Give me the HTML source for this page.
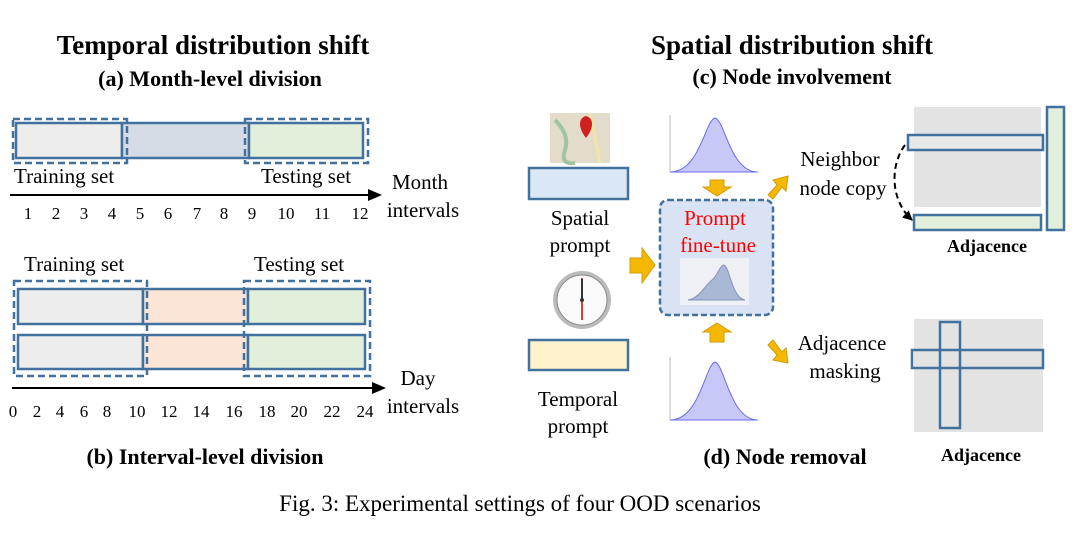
<!DOCTYPE html>
<html><head><style>
body{margin:0;background:#fff}
svg{display:block;font-family:"Liberation Serif",serif}
</style></head><body>
<svg width="1080" height="545" viewBox="0 0 1080 545" xmlns="http://www.w3.org/2000/svg">
<defs>
<marker id="ah" markerWidth="10" markerHeight="10" refX="9" refY="5" orient="auto" markerUnits="userSpaceOnUse"><path d="M0,0 L10,5 L0,10 z" fill="#000"/></marker>
<marker id="ah2" markerWidth="14" markerHeight="12" refX="12" refY="6" orient="auto" markerUnits="userSpaceOnUse"><path d="M0,0 L14,6 L0,12 z" fill="#000"/></marker>
</defs>
<g font-weight="bold" text-anchor="middle" fill="#000">
<text x="213" y="54" font-size="27">Temporal distribution shift</text>
<text x="210" y="86" font-size="22">(a) Month-level division</text>
<text x="792" y="54" font-size="27">Spatial distribution shift</text>
<text x="792" y="84" font-size="22">(c) Node involvement</text>
<text x="205" y="464" font-size="22">(b) Interval-level division</text>
<text x="785" y="464" font-size="22">(d) Node removal</text>
<text x="987" y="252" font-size="18">Adjacence</text>
<text x="981" y="461" font-size="18">Adjacence</text>
</g>
<text x="520" y="511" font-size="23" text-anchor="middle">Fig. 3: Experimental settings of four OOD scenarios</text>

<!-- month bars -->
<g stroke="#41719c" stroke-width="2.5">
<rect x="16" y="123" width="106" height="35" fill="#ededed"/>
<rect x="122" y="123" width="127" height="35" fill="#d6dce5"/>
<rect x="249" y="123" width="114" height="35" fill="#e2efda"/>
</g>
<g fill="none" stroke="#41719c" stroke-width="2.5" stroke-dasharray="7,4">
<rect x="13" y="119" width="114" height="44"/>
<rect x="245" y="119" width="123" height="44"/>
</g>
<g font-size="21">
<text x="14" y="183">Training set</text>
<text x="261" y="183">Testing set</text>
<text x="420" y="189" text-anchor="middle">Month</text>
<text x="423" y="217" text-anchor="middle">intervals</text>
</g>
<line x1="10" y1="195" x2="380" y2="195" stroke="#000" stroke-width="2" marker-end="url(#ah2)"/>
<g font-size="17" text-anchor="middle">
<text x="28" y="219">1</text><text x="56" y="219">2</text><text x="84" y="219">3</text><text x="112" y="219">4</text>
<text x="140" y="219">5</text><text x="168" y="219">6</text><text x="197" y="219">7</text><text x="224" y="219">8</text>
<text x="252" y="219">9</text><text x="286" y="219">10</text><text x="322" y="219">11</text><text x="360" y="219">12</text>
</g>

<!-- day bars -->
<g font-size="21">
<text x="24" y="271">Training set</text>
<text x="254" y="271">Testing set</text>
<text x="418" y="385" text-anchor="middle">Day</text>
<text x="423" y="413" text-anchor="middle">intervals</text>
</g>
<g stroke="#41719c" stroke-width="2.5">
<rect x="18" y="289" width="125" height="35" fill="#ededed"/>
<rect x="143" y="289" width="105" height="35" fill="#fbe5d6"/>
<rect x="248" y="289" width="117" height="35" fill="#e2efda"/>
<rect x="18" y="335" width="125" height="34" fill="#ededed"/>
<rect x="143" y="335" width="105" height="34" fill="#fbe5d6"/>
<rect x="248" y="335" width="117" height="34" fill="#e2efda"/>
</g>
<g fill="none" stroke="#41719c" stroke-width="2.5" stroke-dasharray="7,4">
<rect x="14" y="281" width="133" height="95"/>
<rect x="244" y="281" width="126" height="95"/>
</g>
<line x1="12" y1="388" x2="384" y2="388" stroke="#000" stroke-width="2" marker-end="url(#ah2)"/>
<g font-size="17" text-anchor="middle">
<text x="13" y="417">0</text><text x="37" y="417">2</text><text x="60" y="417">4</text><text x="84" y="417">6</text>
<text x="107" y="417">8</text><text x="137" y="417">10</text><text x="169" y="417">12</text><text x="201" y="417">14</text>
<text x="234" y="417">16</text><text x="267" y="417">18</text><text x="299" y="417">20</text><text x="332" y="417">22</text><text x="365" y="417">24</text>
</g>

<!-- map icon -->
<rect x="550" y="113" width="60" height="50" fill="#e3dccb"/>
<path d="M555,120 Q570,135 565,150 T575,163" stroke="#9fc5a0" stroke-width="4" fill="none"/>
<path d="M590,113 L600,163" stroke="#f2e5a8" stroke-width="3"/>
<path d="M586,138 C578,128 578,118 586,116 C594,118 594,128 586,138 z" fill="#d02020"/>
<rect x="529" y="168" width="99" height="31" fill="#dae8f5" stroke="#41719c" stroke-width="2.5"/>
<g font-size="21" text-anchor="middle">
<text x="580" y="225">Spatial</text>
<text x="580" y="252">prompt</text>
<text x="578" y="406">Temporal</text>
<text x="578" y="433">prompt</text>
</g>
<!-- clock -->
<circle cx="582" cy="300" r="29" fill="#bbb"/>
<circle cx="582" cy="300" r="25" fill="#fafafa" stroke="#888"/>
<line x1="582" y1="278" x2="582" y2="320" stroke="#c00" stroke-width="1.5"/>
<line x1="582" y1="279" x2="582" y2="300" stroke="#333" stroke-width="2"/>
<circle cx="582" cy="300" r="2" fill="#333"/>
<rect x="529" y="340" width="99" height="30" fill="#fff2cc" stroke="#41719c" stroke-width="2.5"/>

<!-- gaussians -->
<g>
<line x1="670" y1="115" x2="670" y2="172" stroke="#bbb"/>
<path d="M670,172 C700,172 705,120 715,118 C725,120 730,172 758,172 z" fill="#c8c8f8" stroke="#6b6bee"/>
<line x1="670" y1="357" x2="670" y2="420" stroke="#bbb"/>
<path d="M670,420 C700,420 705,365 715,362 C725,365 730,420 758,420 z" fill="#c8c8f8" stroke="#6b6bee"/>
</g>
<!-- dashed box -->
<rect x="660" y="200" width="113" height="115" rx="8" fill="#dae3f3" stroke="#41719c" stroke-width="2.5" stroke-dasharray="6,3"/>
<g font-size="21" text-anchor="middle" fill="#ff0000">
<text x="715" y="225">Prompt</text>
<text x="718" y="252">fine-tune</text>
</g>
<rect x="680" y="258" width="69" height="47" fill="#eef0f5"/>
<path d="M688,300 C700,298 705,285 712,280 C718,275 720,265 724,265 C730,268 732,298 745,300 z" fill="#a9b8d4" stroke="#8496b8"/>

<!-- yellow arrows -->
<g fill="#f5b800" stroke="#d49b00" stroke-width="1">
<path d="M710,180 L724,180 L724,187 L731,187 L717,196 L703,187 L710,187 z"/>
<path d="M717,323 L731,332 L724,332 L724,342 L710,342 L710,332 L703,332 z"/>
<path d="M630,258 L642,258 L642,248 L655,265 L642,283 L642,273 L630,273 z"/>
<path d="M768,195 L777,185 L773,180 L788,176 L786,191 L782,187 L773,199 z"/>
<path d="M768,345 L777,355 L773,360 L788,363 L786,348 L782,352 L773,340 z"/>
</g>
<g font-size="21" text-anchor="middle">
<text x="840" y="166">Neighbor</text>
<text x="843" y="195">node copy</text>
<text x="842" y="350">Adjacence</text>
<text x="845" y="378">masking</text>
</g>

<!-- adjacency top -->
<rect x="914" y="107" width="127" height="100" fill="#e3e3e3"/>
<rect x="908" y="135" width="135" height="15" fill="#e8e8e8" stroke="#41719c" stroke-width="2.5"/>
<rect x="1047" y="107" width="17" height="123" fill="#e2efda" stroke="#41719c" stroke-width="2.5"/>
<rect x="914" y="215" width="127" height="15" fill="#e2efda" stroke="#41719c" stroke-width="2.5"/>
<path d="M905,145 C890,165 890,200 912,220" fill="none" stroke="#000" stroke-width="2" stroke-dasharray="6,4" marker-end="url(#ah)"/>

<!-- adjacency bottom -->
<rect x="914" y="319" width="129" height="113" fill="#e3e3e3"/>
<rect x="940" y="322" width="20" height="106" fill="none" stroke="#41719c" stroke-width="2.5"/>
<rect x="912" y="350" width="131" height="18" fill="none" stroke="#41719c" stroke-width="2.5"/>
</svg>
</body></html>
